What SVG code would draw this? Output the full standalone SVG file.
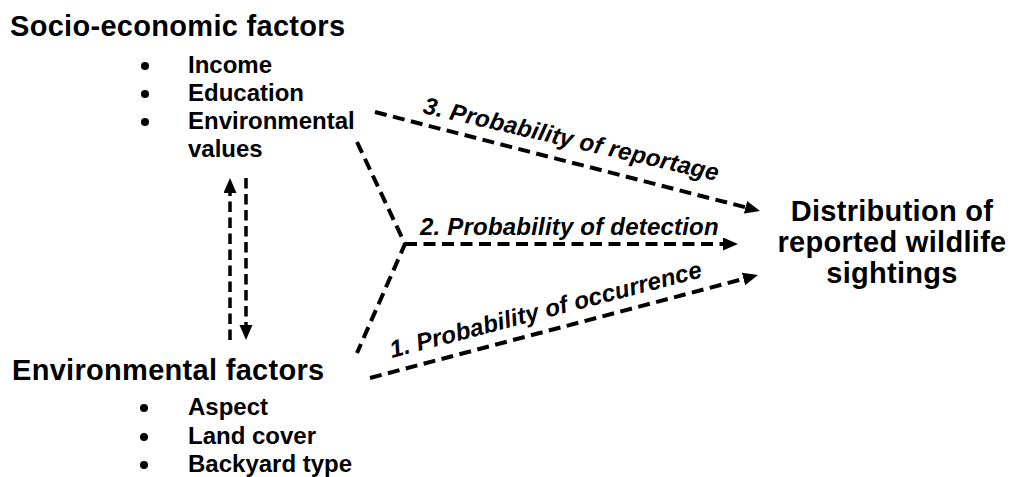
<svg xmlns="http://www.w3.org/2000/svg" width="1013" height="477" viewBox="0 0 1013 477">
<style>
text{font-family:"Liberation Sans",Arial,sans-serif;font-weight:bold;fill:#000}
.h{font-size:29px;letter-spacing:0.3px}
.i{font-size:24px}
.lab{font-size:24px;font-style:italic;letter-spacing:0.2px}
.c{fill:none;stroke:#000;stroke-width:4;stroke-dasharray:12 6.5}
.v{fill:none;stroke:#000;stroke-width:3.5;stroke-dasharray:10.5 5.5}
</style>
<defs>
<marker id="ah" markerUnits="userSpaceOnUse" markerWidth="16" markerHeight="14" refX="0" refY="6.5" orient="auto">
<path d="M0,0 L15,6.5 L0,13 z" fill="#000"/>
</marker>
</defs>
<rect width="1013" height="477" fill="#fff"/>
<g id="socio">
<text class="h" x="10" y="36">Socio-economic factors</text>
<circle cx="145" cy="66" r="4"/>
<circle cx="145" cy="94" r="4"/>
<circle cx="145" cy="122" r="4"/>
<text class="i" x="188" y="73">Income</text>
<text class="i" x="188" y="101">Education</text>
<text class="i" x="188" y="129">Environmental</text>
<text class="i" x="188" y="157">values</text>
</g>
<g id="environ">
<text class="h" x="12" y="380">Environmental factors</text>
<circle cx="144" cy="408" r="4"/>
<circle cx="144" cy="437" r="4"/>
<circle cx="144" cy="465" r="4"/>
<text class="i" x="188" y="415">Aspect</text>
<text class="i" x="188" y="444">Land cover</text>
<text class="i" x="188" y="472">Backyard type</text>
</g>
<g id="distribution">
<text class="h" x="892" y="221" text-anchor="middle">Distribution of</text>
<text class="h" x="892" y="252" text-anchor="middle">reported wildlife</text>
<text class="h" x="892" y="283" text-anchor="middle">sightings</text>
</g>
<g id="connectors">
<path class="v" d="M230,340 L230,193" marker-end="url(#ah)"/>
<path class="v" d="M246,178 L246,325" marker-end="url(#ah)"/>
<path class="c" d="M357,142 L405,244 L357,353"/>
<path class="c" d="M405,244 L723,244" marker-end="url(#ah)"/>
<path class="c" d="M375,112 L745.5,207.3" marker-end="url(#ah)"/>
<path class="c" d="M370,378 L743.5,278.9" marker-end="url(#ah)"/>
<text class="lab" x="420" y="235">2. Probability of detection</text>
<text class="lab" transform="translate(422,113) rotate(13)">3. Probability of reportage</text>
<text class="lab" transform="translate(392,358) rotate(-14.6)">1. Probability of occurrence</text>
</g>
</svg>
